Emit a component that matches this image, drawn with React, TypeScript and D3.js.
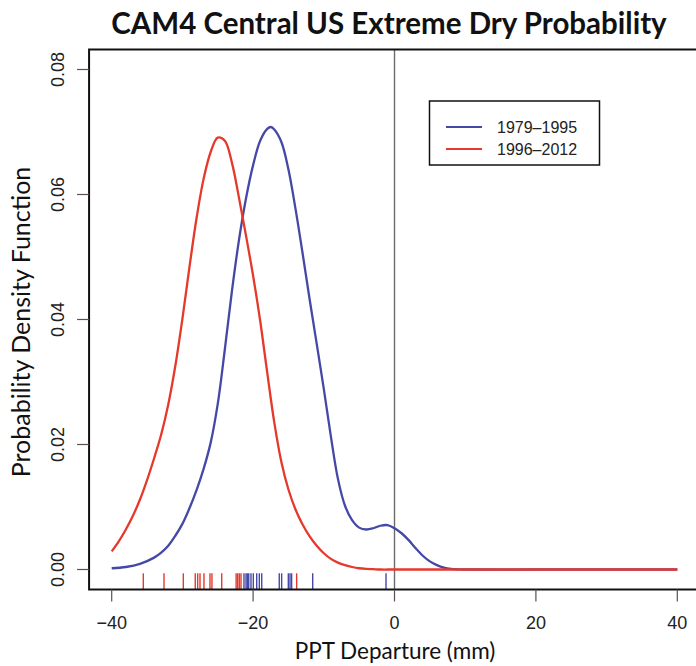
import React from 'react';
import * as d3 from 'd3';

const TITLE = 'CAM4 Central US Extreme Dry Probability';
const X_LABEL = 'PPT Departure (mm)';
const Y_LABEL = 'Probability Density Function';
const SERIES_NAMES = ['1979–1995', '1996–2012'];
const SERIES_COLORS = ['#4548a6', '#e5392c'];

const X_TICKS = [-40, -20, 0, 20, 40];
const Y_TICKS = [0, 0.02, 0.04, 0.06, 0.08];

// 1979–1995 density (blue)
const BLUE_X = [-40, -38, -36, -34, -33, -32, -31, -30, -29, -28, -27, -26, -25, -24, -23, -22, -21, -20, -19, -18, -17.5, -17, -16, -15, -14, -13, -12, -11, -10, -9, -8, -7, -6, -5, -4, -3, -2, -1, 0, 1, 2, 3, 4, 5, 6, 7, 8, 9, 10, 20, 30, 40];
const BLUE_Y = [0.0002, 0.0004, 0.0009, 0.0019, 0.0027, 0.0038, 0.0054, 0.0073, 0.0098, 0.0127, 0.0161, 0.0203, 0.0265, 0.0352, 0.0445, 0.0527, 0.0594, 0.0647, 0.0686, 0.0705, 0.0708, 0.0704, 0.0684, 0.064, 0.0577, 0.0506, 0.0432, 0.0361, 0.0289, 0.0213, 0.0145, 0.0102, 0.0079, 0.0067, 0.0064, 0.0066, 0.007, 0.0071, 0.0066, 0.0058, 0.0047, 0.0034, 0.0022, 0.0013, 0.0007, 0.0003, 0.0001, 0.00003, 0, 0, 0, 0];

// 1996–2012 density (red)
const RED_X = [-40, -39, -38, -37, -36, -35, -34, -33, -32, -31, -30, -29, -28, -27, -26, -25, -24, -23, -22, -21, -20, -19, -18, -17, -16, -15, -14, -13, -12, -11, -10, -9, -8, -7, -6, -5, -4, -3, -2, 0, 10, 20, 30, 40];
const RED_Y = [0.0029, 0.0045, 0.0064, 0.0086, 0.0112, 0.0143, 0.0178, 0.0216, 0.0264, 0.0326, 0.0401, 0.0484, 0.0562, 0.0625, 0.0668, 0.0691, 0.0686, 0.0651, 0.0595, 0.0534, 0.047, 0.0398, 0.0315, 0.0235, 0.0172, 0.0128, 0.0096, 0.0072, 0.0053, 0.0038, 0.0026, 0.0017, 0.0011, 0.0007, 0.0004, 0.0002, 0.0001, 0.00005, 0, 0, 0, 0, 0, 0];

// rug observations
const BLUE_RUG = [-21.29, -21.0, -20.82, -20.62, -20.3, -19.97, -19.49, -19.12, -18.78, -16.3, -15.96, -15.02, -14.78, -14.55, -11.57, -1.2];
const RED_RUG = [-35.53, -32.6, -29.87, -28.18, -27.84, -27.51, -26.95, -26.1, -25.82, -24.44, -22.4, -22.18, -21.95, -21.71, -13.84];

const AXIS_FONT = '"Liberation Sans", Arial, Helvetica, sans-serif';
const TEXT_FONT = 'Lato, "Open Sans", sans-serif';

export default function App() {
  const W = 696;
  const H = 666;
  const x = d3.scaleLinear().domain([-40, 40]).range([111.7, 677.3]);
  const y = d3.scaleLinear().domain([0, 0.08]).range([569.5, 69.5]);

  const left = x(-43.2);
  const right = x(43.2);
  const top = y(0.0832);
  const bottom = y(-0.0032);
  const rugLen = (bottom - top) * 0.03;

  const line = d3
    .line<[number, number]>()
    .x((d) => x(d[0]))
    .y((d) => y(d[1]))
    .curve(d3.curveCatmullRom.alpha(0.5));

  const blue: [number, number][] = BLUE_X.map((v, i) => [v, BLUE_Y[i]]);
  const red: [number, number][] = RED_X.map((v, i) => [v, RED_Y[i]]);

  const fmtY = d3.format('.2f');
  const fmtX = (v: number) => (v < 0 ? '\u2212' + Math.abs(v) : String(v));

  const legX = 429.5;
  const legY = 101;
  const legW = 170;
  const legH = 64;

  return (
    <svg
      width={W}
      height={H}
      style={{ position: 'absolute', left: 0, top: 0, background: '#fff' }}
    >
      <rect x={0} y={0} width={W} height={H} fill="#fff" />
      <text
        x={389}
        y={34}
        textAnchor="middle"
        fontFamily={TEXT_FONT}
        fontWeight={700}
        fontSize={29.5}
        fill="#111"
      >
        {TITLE}
      </text>

      {/* zero reference line */}
      <line x1={x(0)} x2={x(0)} y1={top} y2={bottom} stroke="#6b6b6b" strokeWidth={1.4} />

      {/* curves */}
      <path d={line(blue) || ''} fill="none" stroke={SERIES_COLORS[0]} strokeWidth={2.3} />
      <path d={line(red) || ''} fill="none" stroke={SERIES_COLORS[1]} strokeWidth={2.3} />

      {/* rugs */}
      {RED_RUG.map((v, i) => (
        <line key={'r' + i} x1={x(v)} x2={x(v)} y1={bottom} y2={bottom - rugLen} stroke={SERIES_COLORS[1]} strokeWidth={1.4} />
      ))}
      {BLUE_RUG.map((v, i) => (
        <line key={'b' + i} x1={x(v)} x2={x(v)} y1={bottom} y2={bottom - rugLen} stroke={SERIES_COLORS[0]} strokeWidth={1.4} />
      ))}

      {/* box */}
      <rect x={left} y={top} width={right - left} height={bottom - top} fill="none" stroke="#111" strokeWidth={2} />

      {/* x axis */}
      {X_TICKS.map((t) => (
        <g key={'xt' + t}>
          <line x1={x(t)} x2={x(t)} y1={bottom} y2={bottom + 12} stroke="#5a5050" strokeWidth={1.2} />
          <text x={x(t)} y={629} textAnchor="middle" fontFamily={AXIS_FONT} fontSize={18} fill="#222">
            {fmtX(t)}
          </text>
        </g>
      ))}
      {/* y axis */}
      {Y_TICKS.map((t) => (
        <g key={'yt' + t}>
          <line x1={left - 12} x2={left} y1={y(t)} y2={y(t)} stroke="#5a5050" strokeWidth={1.2} />
          <text
            transform={`translate(${64},${y(t)}) rotate(-90)`}
            textAnchor="middle"
            fontFamily={AXIS_FONT}
            fontSize={18}
            fill="#222"
          >
            {fmtY(t)}
          </text>
        </g>
      ))}

      <text x={395} y={659} textAnchor="middle" fontFamily={TEXT_FONT} fontSize={22.5} fill="#111">
        {X_LABEL}
      </text>
      <text
        transform={`translate(30,322) rotate(-90)`}
        textAnchor="middle"
        fontFamily={TEXT_FONT}
        fontSize={25}
        fill="#111"
      >
        {Y_LABEL}
      </text>

      {/* legend */}
      <rect x={legX} y={legY} width={legW} height={legH} fill="#fff" stroke="#111" strokeWidth={1.5} />
      {SERIES_NAMES.map((name, i) => (
        <g key={name}>
          <line x1={446} x2={482} y1={127 + i * 22} y2={127 + i * 22} stroke={SERIES_COLORS[i]} strokeWidth={2.2} />
          <text x={497} y={133 + i * 22} fontFamily={AXIS_FONT} fontSize={16} fill="#222">
            {name}
          </text>
        </g>
      ))}
    </svg>
  );
}
